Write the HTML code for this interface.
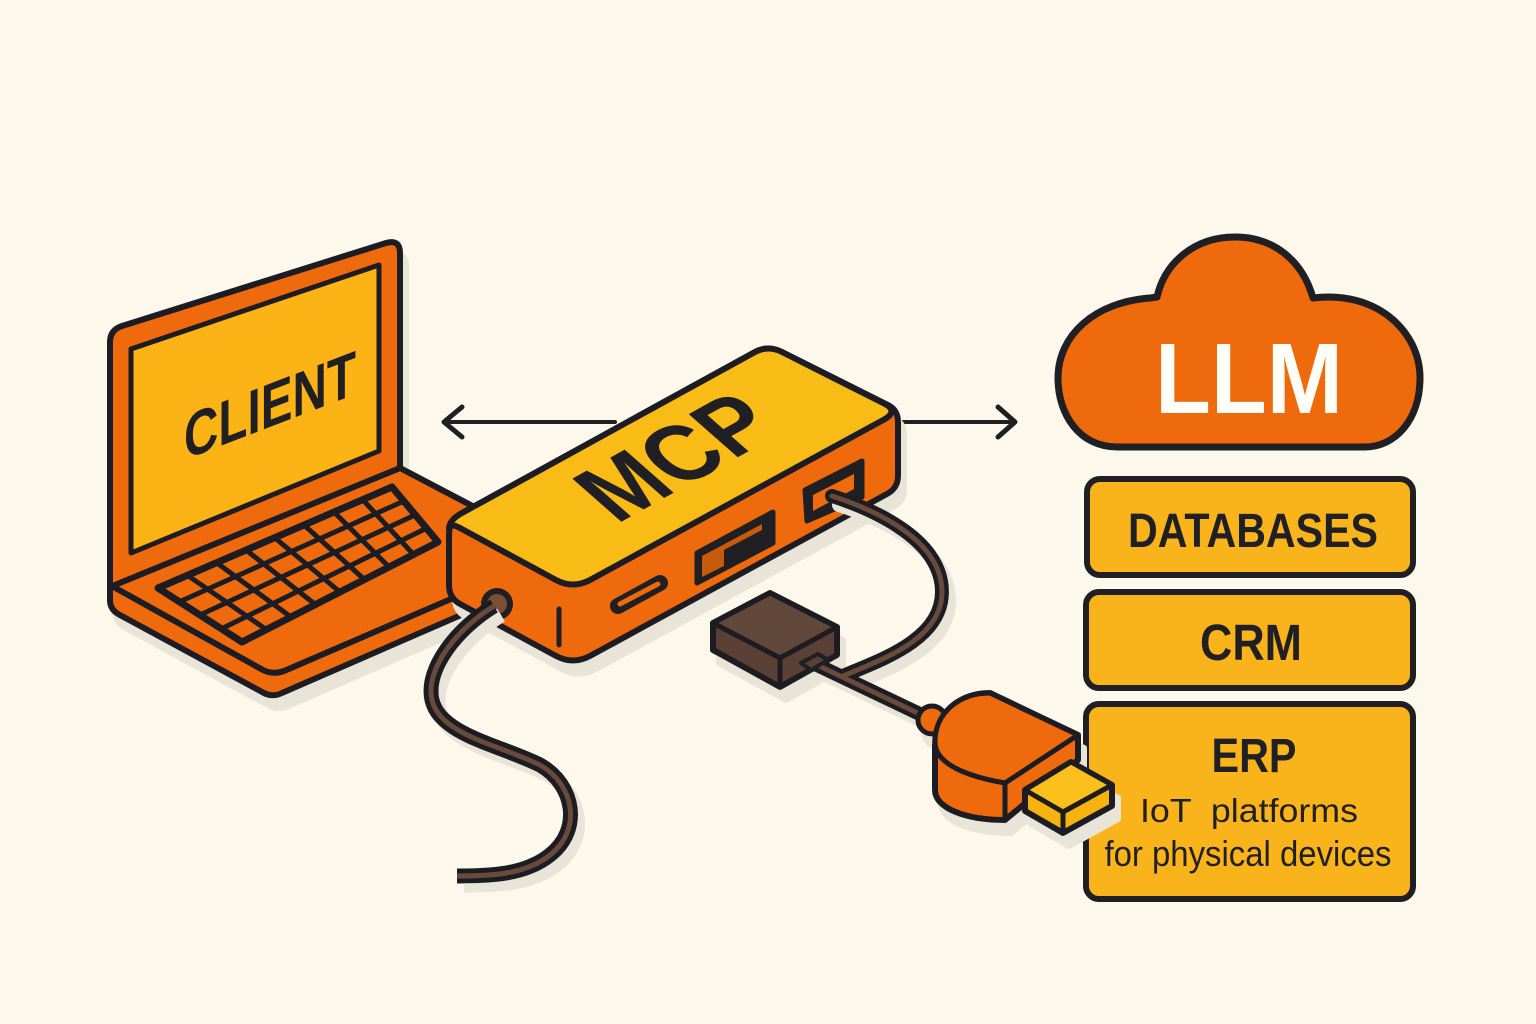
<!DOCTYPE html>
<html>
<head>
<meta charset="utf-8">
<style>
html,body{margin:0;padding:0;background:#FDF8EC;}
svg{display:block;}
text{font-family:"Liberation Sans",sans-serif;}
</style>
</head>
<body>
<svg width="1536" height="1024" viewBox="0 0 1536 1024" xmlns="http://www.w3.org/2000/svg">
<defs>
<filter id="sh" x="-20%" y="-20%" width="150%" height="150%">
<feOffset in="SourceAlpha" dx="6" dy="13" result="o"/>
<feFlood flood-color="#e9e4d8"/>
<feComposite in2="o" operator="in" result="s"/>
<feMerge><feMergeNode in="s"/><feMergeNode in="SourceGraphic"/></feMerge>
</filter>
<filter id="sh2" x="-20%" y="-20%" width="150%" height="150%">
<feOffset in="SourceAlpha" dx="7" dy="9" result="o"/>
<feFlood flood-color="#e9e4d8"/>
<feComposite in2="o" operator="in" result="s"/>
<feMerge><feMergeNode in="s"/><feMergeNode in="SourceGraphic"/></feMerge>
</filter>
</defs>
<rect width="1536" height="1024" fill="#FDF8EC"/>

<!-- arrows -->
<g stroke="#1f1f24" stroke-width="4" fill="none" stroke-linecap="round" stroke-linejoin="round">
<path d="M444,422 L615,422"/>
<path d="M462,407 L444,422 L462,437" stroke-width="5"/>
<path d="M895,422 L1014,422"/>
<path d="M998,407 L1015,422 L998,437" stroke-width="5"/>
</g>

<!-- laptop -->
<g filter="url(#sh)" stroke="#1f1f24" stroke-linejoin="round" stroke-linecap="round">
<path d="M110,585 L400,468 L560,552 L560,572 L282,693 Q272,698 262,692 L118,614 Q110,609 110,600 Z" fill="#EE6A0C" stroke-width="6"/>
<path d="M110,585 L400,468 L560,552 L284,671 Q273,675 263,670 Z" fill="#EE6A0C" stroke-width="6"/>
<path d="M158,588 L392,487 L438,542 L242,642 Z" fill="#EE6A0C" stroke-width="7"/>
<g stroke-width="5" fill="none">
<path d="M187,575 L267,630"/><path d="M217,563 L291,617"/><path d="M246,550 L316,605"/><path d="M275,538 L340,592"/>
<path d="M304,525 L365,580"/><path d="M334,512 L389,567"/><path d="M363,500 L414,555"/>
<path d="M179,602 L404,501"/><path d="M200,615 L415,515"/><path d="M221,629 L427,528"/>
</g>
<path d="M110,342 Q110,330 122,326 L386,243 Q400,239 400,253 L400,468 L110,587 Z" fill="#EE6A0C" stroke-width="6"/>
<path d="M131,349 L379,265 L379,451 L131,553 Z" fill="#FBB318" stroke-width="5"/>
</g>
<text transform="translate(184,460) skewY(-21)" x="0" y="0" font-size="63" font-weight="bold" fill="#1f1f24" textLength="172" lengthAdjust="spacingAndGlyphs">CLIENT</text>

<!-- hub -->
<g filter="url(#sh)" stroke="#1f1f24" stroke-linejoin="round" stroke-linecap="round">
<path d="M449,535 Q449,520 462,513 L755,352 Q768,345 782,352 L888,405 Q898,410 898,422 L898,476 Q898,488 887,494 L590,656 Q573,665 556,656 L460,604 Q449,598 449,585 Z" fill="#EE6A0C" stroke-width="6"/>
<path d="M449,529 Q449,520 462,513 L755,352 Q768,345 782,352 L885,404 Q898,411 885,419 L590,580 Q573,589 556,580 L460,528 Q449,522 449,529 Z" fill="#F9BB12" stroke-width="6"/>
</g>
<text transform="matrix(0.875,-0.485,0.75,0.66,674,456)" x="0" y="34" text-anchor="middle" font-size="95" font-weight="bold" fill="#1f1f24" textLength="190" lengthAdjust="spacingAndGlyphs">MCP</text>
<!-- ports -->
<g stroke="#1f1f24" stroke-linecap="round" stroke-linejoin="round">
<path d="M559,609 L559,645" stroke-width="5"/>
<path d="M618,606 L660,583" stroke-width="16"/>
<path d="M620,604 L658,584" stroke="#EE6A0C" stroke-width="5"/>
<path d="M697,553 L773,512 L773,543 L697,583 Z" fill="#1f1f24" stroke-width="5"/>
<path d="M702,556 L762,524 L762,530 L724,550 L724,566 L702,577 Z" fill="#C85A0C" stroke="none"/>
<path d="M805,490 L862,461 L862,497 L807,521 Z" fill="#1f1f24" stroke-width="5"/>
<path d="M813,495 L854,474 L854,489 L813,511 Z" fill="#EE6A0C" stroke="none"/>
<circle cx="497" cy="604" r="16" fill="#1f1f24" stroke="none"/>
<circle cx="497" cy="604" r="10" fill="#7a4f36" stroke="none"/>
</g>

<!-- cables -->
<g filter="url(#sh2)" fill="none" stroke-linecap="butt" stroke-linejoin="round">
<path d="M494,606 C458,628 425,668 432,700 C440,735 500,745 540,765 C575,785 582,830 550,855 C525,875 490,876 457,876" stroke="#1f1f24" stroke-width="15"/>
<path d="M494,606 C458,628 425,668 432,700 C440,735 500,745 540,765 C575,785 582,830 550,855 C525,875 490,876 457,876" stroke="#6a4b3b" stroke-width="5"/>
</g>

<!-- brown box -->
<g filter="url(#sh)" stroke="#1f1f24" stroke-linejoin="round">
<path d="M713,623 L770,593 L837,627 L837,655 L780,687 L713,650 Z" fill="#5a4035" stroke-width="6"/>
<path d="M713,623 L770,593 L837,627 L780,658 Z" fill="#62473a" stroke-width="5"/>
<path d="M780,658 L780,687" stroke-width="5"/>
</g>

<g filter="url(#sh2)" fill="none" stroke-linecap="round" stroke-linejoin="round">
<path d="M832,496 C875,510 942,540 942,592 C942,640 880,660 843,676" stroke="#1f1f24" stroke-width="14"/>
<path d="M815,664 L928,718" stroke="#1f1f24" stroke-width="14"/>
<path d="M832,496 C875,510 942,540 942,592 C942,640 880,660 843,676" stroke="#6a4b3b" stroke-width="5"/>
<path d="M815,664 L928,718" stroke="#6a4b3b" stroke-width="5"/>
</g>
<path d="M801,663 L818,654 L828,660 L811,670 Z" fill="#5a4035" stroke="#1f1f24" stroke-width="4" stroke-linejoin="round"/>

<!-- cloud -->
<path d="M1117,447 C1080,447 1058,415 1058,378 C1058,335 1095,302 1150,298 L1157,297 C1165,262 1195,237 1235,237 C1275,237 1303,262 1313,298 C1375,290 1420,330 1420,378 C1420,420 1395,447 1365,447 Z" fill="#EE6A0C" stroke="#1f1f24" stroke-width="7" stroke-linejoin="round"/>
<text x="1155" y="413" font-size="100" font-weight="bold" fill="#FFFDF8" textLength="188" lengthAdjust="spacingAndGlyphs">LLM</text>

<!-- boxes -->
<g fill="#F9B41C" stroke="#1f1f24" stroke-width="6">
<rect x="1087" y="479" width="326" height="96" rx="13"/>
<rect x="1086" y="592" width="327" height="96" rx="13"/>
<rect x="1086" y="704" width="327" height="195" rx="13"/>
</g>
<g fill="#1f1f24" text-anchor="middle">
<text x="1253" y="547" font-size="48" font-weight="bold" textLength="250" lengthAdjust="spacingAndGlyphs">DATABASES</text>
<text x="1251" y="660" font-size="51" font-weight="bold" textLength="102" lengthAdjust="spacingAndGlyphs">CRM</text>
<text x="1254" y="772" font-size="48" font-weight="bold" textLength="85" lengthAdjust="spacingAndGlyphs">ERP</text>
<text x="1249" y="822" font-size="33" textLength="218" lengthAdjust="spacingAndGlyphs" xml:space="preserve">IoT  platforms</text>
<text x="1248" y="866" font-size="36" textLength="287" lengthAdjust="spacingAndGlyphs">for physical devices</text>
</g>

<!-- usb plug -->
<g filter="url(#sh)" stroke="#1f1f24" stroke-linejoin="round">
<circle cx="932" cy="720" r="14" fill="#EE6A0C" stroke-width="5"/>
<path d="M935,745 C935,712 960,693 990,693 L1078,735 L1078,760 L1005,820 C965,820 935,808 935,790 Z" fill="#EE6A0C" stroke-width="6"/>
<path d="M935,742 C935,712 960,693 990,693 L1078,735 L1005,783 C970,777 935,765 935,742 Z" fill="#EE6A0C" stroke-width="5"/>
<path d="M1005,783 L1005,820" stroke-width="5"/>
<path d="M1025,790 L1071,762 L1112,785 L1112,806 L1063,833 L1025,811 Z" fill="#F7B30F" stroke-width="6"/>
<path d="M1025,790 L1071,762 L1112,785 L1063,812 Z" fill="#FBC01A" stroke-width="5"/>
<path d="M1063,812 L1063,833" stroke-width="5"/>
</g>
</svg>
</body>
</html>
